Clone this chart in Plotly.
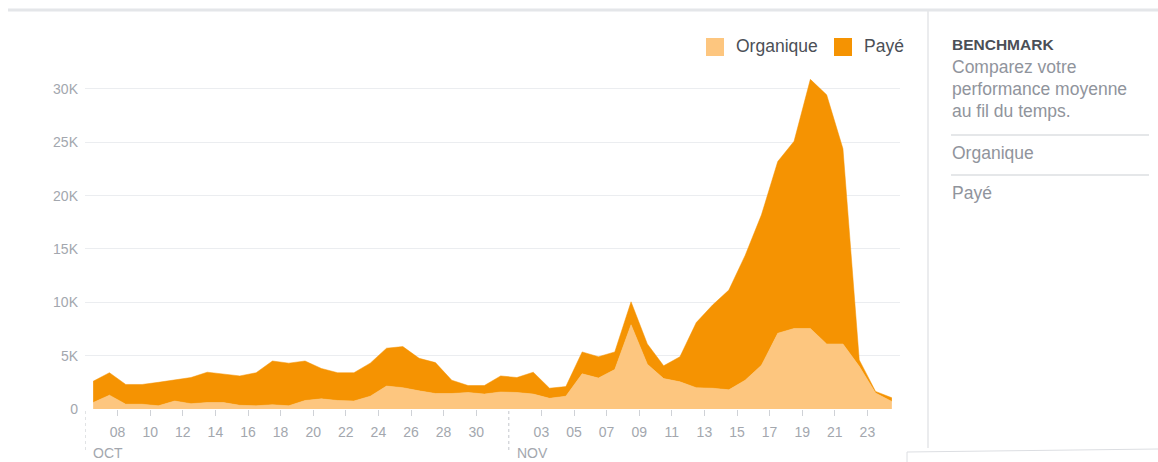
import pandas as pd
import plotly.graph_objects as go

# ---- data ----
start_day = "2018-10-06 12:00"
n_days = 50
organique = [600, 1300, 450, 450, 300, 750, 500, 600, 600, 350,
             300, 400, 300, 800, 950, 800, 750, 1200, 2150, 2000,
             1700, 1450, 1450, 1550, 1400, 1600, 1550, 1400, 1000, 1200,
             3300, 2900, 3700, 7900, 4200, 2850, 2550, 2000, 1950, 1800,
             2700, 4100, 7100, 7550, 7550, 6100, 6100, 4000, 1500, 700]
paye = [2000, 2100, 1850, 1850, 2200, 1950, 2450, 2850, 2700, 2750,
        3100, 4100, 4000, 3700, 2850, 2600, 2650, 3100, 3550, 3850,
        3050, 2900, 1250, 650, 800, 1500, 1400, 2050, 950, 900,
        2050, 2000, 1650, 2150, 1900, 1200, 2350, 6100, 7800, 9350,
        11700, 14100, 16100, 17550, 23350, 23350, 18300, 600, 150, 350]
x_tick_dates = ["2018-10-08", "2018-10-10", "2018-10-12", "2018-10-14", "2018-10-16",
                "2018-10-18", "2018-10-20", "2018-10-22", "2018-10-24", "2018-10-26",
                "2018-10-28", "2018-10-30", "2018-11-03", "2018-11-05", "2018-11-07",
                "2018-11-09", "2018-11-11", "2018-11-13", "2018-11-15", "2018-11-17",
                "2018-11-19", "2018-11-21", "2018-11-23"]
x_tick_labels = ["08", "10", "12", "14", "16", "18", "20", "22", "24", "26", "28", "30",
                 "03", "05", "07", "09", "11", "13", "15", "17", "19", "21", "23"]
y_tick_vals = [0, 5000, 10000, 15000, 20000, 25000, 30000]
y_tick_labels = ["0", "5K", "10K", "15K", "20K", "25K", "30K"]
months = ["OCT", "NOV"]
month_starts = ["2018-10-06", "2018-11-01"]
series_names = ["Organique", "Payé"]
panel_lines = ["Comparez votre", "performance moyenne", "au fil du temps."]

dates = pd.date_range(start_day, periods=n_days, freq="D")

C_ORG = "#FDC67F"
C_PAY = "#F59302"
GRID = "#ebedf0"
TICK = "#a3a7ae"
DARK = "#4b4f56"
GRAY = "#90949c"
FONT = "Liberation Sans, Arial, sans-serif"

W, H = 1158, 462
L, R, T, B = 85, 900, 75, 409


def px(xp):
    return (xp - L) / (R - L)


def py(yp):
    return (B - yp) / (B - T)


fig = go.Figure()
fig.add_trace(go.Scatter(x=dates, y=organique, name=series_names[0], stackgroup="one",
                         mode="lines", line=dict(width=0.5, color=C_ORG),
                         fillcolor=C_ORG))
fig.add_trace(go.Scatter(x=dates, y=paye, name=series_names[1], stackgroup="one",
                         mode="lines", line=dict(width=0.5, color=C_PAY),
                         fillcolor=C_PAY))

shapes = []
annotations = []

# top border line and divider
shapes.append(dict(type="line", xref="paper", yref="paper", x0=px(8), x1=px(1158),
                   y0=py(10), y1=py(10), line=dict(color="#e4e6e9", width=3)))
shapes.append(dict(type="line", xref="paper", yref="paper", x0=px(928), x1=px(928),
                   y0=py(11), y1=py(448), line=dict(color="#e4e6e9", width=1.5)))
# bottom-right sliver
shapes.append(dict(type="line", xref="paper", yref="paper", x0=px(907), x1=px(1158),
                   y0=py(452), y1=py(449), line=dict(color="#dcdee2", width=1)))
shapes.append(dict(type="line", xref="paper", yref="paper", x0=px(907), x1=px(907),
                   y0=py(452), y1=py(462), line=dict(color="#dcdee2", width=1)))

# month dashed separators and labels
for m, d in zip(months, month_starts):
    shapes.append(dict(type="line", xref="x", yref="paper", x0=d, x1=d,
                       y0=py(411), y1=py(452),
                       line=dict(color="#c4c7cc", width=1, dash="dot")))
    annotations.append(dict(x=d, y=py(453), xref="x", yref="paper", text=m,
                            showarrow=False, xanchor="left", yanchor="middle",
                            xshift=6, font=dict(family=FONT, size=14, color=TICK)))

# legend (manual)
leg = [(706, 734, C_ORG, series_names[0]), (834, 862, C_PAY, series_names[1])]
for sx, tx, col, name in leg:
    shapes.append(dict(type="rect", xref="paper", yref="paper", x0=px(sx), x1=px(sx + 18),
                       y0=py(38), y1=py(56), fillcolor=col, line=dict(width=0)))
    annotations.append(dict(x=px(tx), y=py(46), xref="paper", yref="paper", text=name,
                            showarrow=False, xanchor="left", yanchor="middle",
                            font=dict(family=FONT, size=17.5, color=DARK)))

# right panel
annotations.append(dict(x=px(950), y=py(44), xref="paper", yref="paper",
                        text="<b>BENCHMARK</b>", showarrow=False, xanchor="left",
                        yanchor="middle", font=dict(family=FONT, size=15.5, color=DARK)))
for i, t in enumerate(panel_lines):
    annotations.append(dict(x=px(950), y=py(67 + 22 * i), xref="paper", yref="paper",
                            text=t, showarrow=False, xanchor="left", yanchor="middle",
                            font=dict(family=FONT, size=17.5, color=GRAY)))
for yy in (135, 175):
    shapes.append(dict(type="line", xref="paper", yref="paper", x0=px(951), x1=px(1149),
                       y0=py(yy), y1=py(yy), line=dict(color="#dddfe2", width=1.5)))
for i, t in enumerate(series_names):
    annotations.append(dict(x=px(950), y=py(153 + 40 * i), xref="paper", yref="paper",
                            text=t, showarrow=False, xanchor="left", yanchor="middle",
                            font=dict(family=FONT, size=17.5, color=GRAY)))

fig.update_layout(
    width=W, height=H,
    margin=dict(l=L, r=W - R, t=T, b=H - B),
    paper_bgcolor="white", plot_bgcolor="white",
    showlegend=False,
    font=dict(family=FONT, size=14, color=TICK),
    shapes=shapes, annotations=annotations,
    xaxis=dict(type="date", range=["2018-10-06 00:00", "2018-11-25 00:00"],
               tickvals=x_tick_dates, ticktext=x_tick_labels,
               ticks="outside", ticklen=6, tickcolor="#cfd2d7", tickwidth=1,
               showgrid=False, zeroline=False, showline=False, ticklabelstandoff=4,
               tickfont=dict(family=FONT, size=14, color=TICK)),
    yaxis=dict(range=[0, 31310], tickvals=y_tick_vals, ticktext=y_tick_labels,
               showgrid=True, gridcolor=GRID, gridwidth=1, zeroline=False,
               showline=False, ticks="", ticklabelstandoff=6,
               tickfont=dict(family=FONT, size=14, color=TICK)),
)

fig.write_html("out.html", config={"displayModeBar": False},
               post_script="document.body.style.margin='0';document.body.style.overflow='hidden';")
